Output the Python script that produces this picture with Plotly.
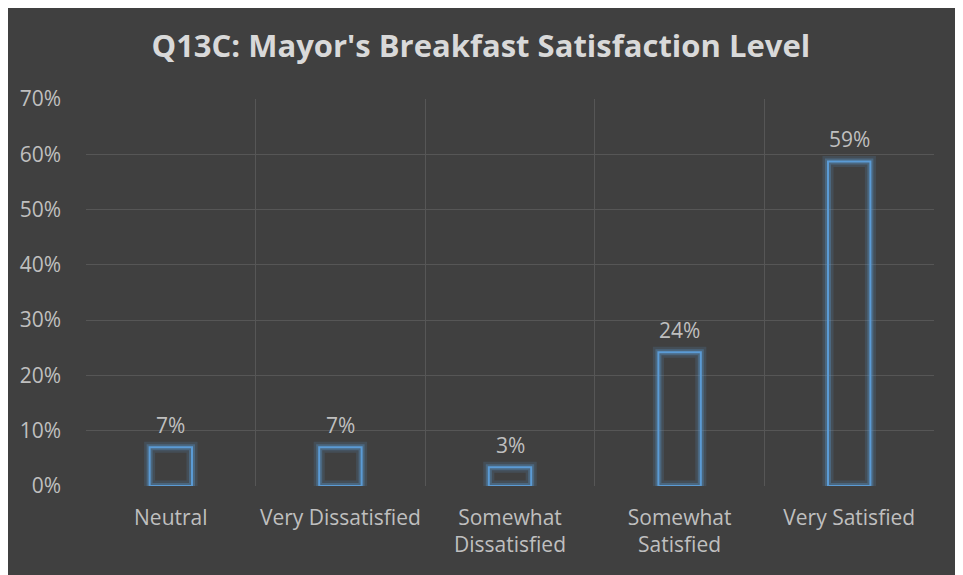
import plotly.graph_objects as go

categories = ["Neutral", "Very Dissatisfied", "Somewhat<br>Dissatisfied", "Somewhat<br>Satisfied", "Very Satisfied"]
values = [0.07, 0.07, 0.034, 0.242, 0.587]
y_ticks = [0, 0.1, 0.2, 0.3, 0.4, 0.5, 0.6, 0.7]
title_text = "Q13C: Mayor's Breakfast Satisfaction Level"

BG = "#404040"
LINE = "#5b9bd5"
GRID = "#565656"
TXT = "#bfbfbf"
FONT = "Open Sans"

fig = go.Figure()
# glow layers
fig.add_trace(go.Bar(
    x=categories, y=values, width=0.25,
    marker=dict(color="rgba(0,0,0,0)", line=dict(color="rgba(91,155,213,0.16)", width=11)),
    hoverinfo="skip", showlegend=False,
))
fig.add_trace(go.Bar(
    x=categories, y=values, width=0.25,
    marker=dict(color="rgba(0,0,0,0)", line=dict(color="rgba(91,155,213,0.32)", width=6)),
    hoverinfo="skip", showlegend=False,
))
fig.add_trace(go.Bar(
    x=categories, y=values, width=0.25,
    marker=dict(color="rgba(0,0,0,0)", line=dict(color=LINE, width=2)),
    showlegend=False,
))

for c, v in zip(categories, values):
    fig.add_annotation(
        x=c, y=v, text=f"{v:.0%}", showarrow=False,
        xanchor="center", yanchor="bottom", yshift=6,
        font=dict(family=FONT, size=21, color=TXT),
    )

fig.update_layout(
    width=963, height=575,
    barmode="overlay",
    paper_bgcolor=BG, plot_bgcolor=BG,
    margin=dict(l=78, r=37, t=91, b=97),
    title=dict(text="<b>" + title_text + "</b>", x=0.491, xanchor="center", y=0.934, yanchor="middle",
               font=dict(family=FONT, size=31, color="#d9d9d9")),
    font=dict(family=FONT, color=TXT),
)
fig.update_xaxes(
    type="category", tickson="boundaries", showgrid=True, gridcolor=GRID, gridwidth=1,
    showline=False, zeroline=False, ticks="", ticklabelstandoff=17,
    tickfont=dict(family=FONT, size=21, color=TXT),
)
fig.update_yaxes(
    range=[0, 0.7], tickvals=y_ticks, tickformat=".0%",
    showgrid=True, gridcolor=GRID, gridwidth=1, zeroline=False, showline=False,
    ticks="", ticklabelstandoff=24,
    tickfont=dict(family=FONT, size=21, color=TXT),
)

fig.write_html("out.html")
